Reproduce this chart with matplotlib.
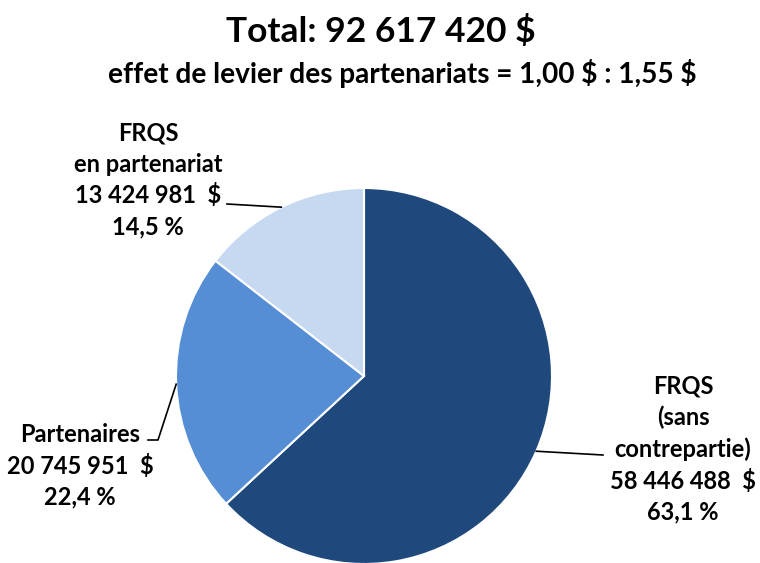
import matplotlib
matplotlib.use("Agg")
import matplotlib.pyplot as plt
import numpy as np

plt.rcParams['font.family'] = ['Lato', 'DejaVu Sans']
plt.rcParams['text.parse_math'] = False

categories = ["FRQS\n(sans\ncontrepartie)", "Partenaires", "FRQS\nen partenariat"]
values = [58446488, 20745951, 13424981]
colors = ["#1F497D", "#558ED5", "#C6D9F1"]
title = "Total: 92 617 420 $"
subtitle = "effet de levier des partenariats = 1,00 $ : 1,55 $"

W, H = 760, 563
fig = plt.figure(figsize=(W / 100, H / 100), dpi=100)
ax = fig.add_axes([0, 0, 1, 1])

cx, cy, r = 364, H - 376, 188
wedges, _ = ax.pie(values, colors=colors, startangle=90, counterclock=False,
                   center=(cx, cy), radius=r, frame=True,
                   wedgeprops=dict(edgecolor='white', linewidth=1.5))
ax.set_xlim(0, W)
ax.set_ylim(0, H)
ax.set_aspect('equal')
ax.axis('off')

total = sum(values)

def fmt_money(v):
    return f"{v:,}".replace(",", " ") + "  $"

def fmt_pct(v):
    return f"{100 * v / total:.1f}".replace(".", ",") + " %"

# label layout: (text center x, center y of text block in pixels), leader path points
label_pos = [(683, 449), (80, 466), (148, 180)]
leader_end = [[(603, 455)], [(158, 440), (148, 440)], [(227, 204)]]

for w, cat, v, (lx, ly), path in zip(wedges, categories, values, label_pos, leader_end):
    txt = f"{cat}\n{fmt_money(v)}\n{fmt_pct(v)}"
    ax.text(lx, H - ly, txt, ha='center', va='center', fontsize=17,
            fontweight='bold', linespacing=1.4, color='black')
    ang = np.deg2rad((w.theta1 + w.theta2) / 2)
    px, py = cx + r * np.cos(ang), cy + r * np.sin(ang)
    xs = [px] + [p[0] for p in path]
    ys = [py] + [H - p[1] for p in path]
    ax.plot(xs, ys, color='black', linewidth=1.2)

ax.text(381, H - 32, title, ha='center', va='center', fontsize=25.5, fontweight='bold')
ax.text(402, H - 74, subtitle, ha='center', va='center', fontsize=20.2, fontweight='bold')

fig.savefig("out.png", dpi=100)
